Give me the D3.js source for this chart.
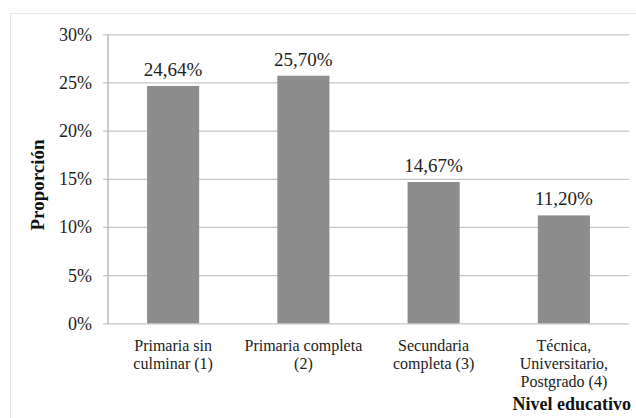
<!DOCTYPE html>
<html>
<head>
<meta charset="utf-8">
<script src="https://cdn.jsdelivr.net/npm/d3@7"></script>
<style>
  html, body { margin: 0; padding: 0; background: #fff; }
  svg { display: block; }
  svg text { font-family: "Liberation Serif", "Times New Roman", serif; }
</style>
</head>
<body>
<svg id="chart" width="636" height="418"></svg>
<script>
// Education level categories (label lines) and their shares (%)
const categories = [
  ["Primaria sin", "culminar (1)"],
  ["Primaria completa", "(2)"],
  ["Secundaria", "completa (3)"],
  ["Técnica,", "Universitario,", "Postgrado (4)"]
];
const values = [24.64, 25.70, 14.67, 11.20];
const valueLabels = ["24,64%", "25,70%", "14,67%", "11,20%"];
const yTicks = [0, 5, 10, 15, 20, 25, 30];
const yTitle = "Proporción";
const xTitle = "Nivel educativo";

const svg = d3.select("#chart");

// Light frame around the chart area
svg.append("rect")
  .attr("x", 10.5).attr("y", 13.5)
  .attr("width", 640).attr("height", 420)
  .attr("fill", "#fff")
  .attr("stroke", "#e6e6e6");

const plotLeft = 108, plotRight = 629, plotTop = 34.3, plotBottom = 323.3;

const x = d3.scaleBand()
  .domain(d3.range(categories.length))
  .range([plotLeft, plotRight])
  .paddingInner(0.6)
  .paddingOuter(0.3);

const y = d3.scaleLinear().domain([0, 30]).range([plotBottom, plotTop]);

// Horizontal gridlines with short ticks to the left of the axis
const yAxis = d3.axisLeft(y)
  .tickValues(yTicks)
  .tickSize(-(plotRight - plotLeft))
  .tickPadding(16)
  .tickFormat(d => d + "%");

const gy = svg.append("g")
  .attr("transform", `translate(${plotLeft},0)`)
  .call(yAxis)
  .attr("font-family", null);
gy.select(".domain").remove();
gy.selectAll(".tick line")
  .attr("x1", -5)
  .attr("stroke", "#c6c6c6")
  .attr("stroke-width", 1.3);
gy.selectAll(".tick text")
  .style("font-size", "18px")
  .attr("fill", "#222")
  .attr("x", -16)
  .attr("dy", "0.33em");

// Vertical axis line
svg.append("line")
  .attr("x1", plotLeft).attr("x2", plotLeft)
  .attr("y1", plotTop).attr("y2", plotBottom)
  .attr("stroke", "#b8b8b8")
  .attr("stroke-width", 1.5);

// Bars
svg.append("g").selectAll("rect")
  .data(values)
  .join("rect")
  .attr("x", (d, i) => x(i))
  .attr("width", x.bandwidth())
  .attr("y", d => y(d))
  .attr("height", d => y(0) - y(d))
  .attr("fill", "#8d8d8d");

// Value labels above bars
svg.append("g").selectAll("text")
  .data(values)
  .join("text")
  .attr("x", (d, i) => x(i) + x.bandwidth() / 2)
  .attr("y", d => y(d) - 10)
  .attr("text-anchor", "middle")
  .style("font-size", "19px")
  .attr("fill", "#222")
  .text((d, i) => valueLabels[i]);

// Category labels
const cat = svg.append("g").selectAll("text")
  .data(categories)
  .join("text")
  .attr("text-anchor", "middle")
  .style("font-size", "16px")
  .attr("fill", "#222");
cat.selectAll("tspan")
  .data((d, i) => d.map(s => ({ s, i })))
  .join("tspan")
  .attr("x", d => x(d.i) + x.bandwidth() / 2)
  .attr("y", (d, j) => 350.5 + j * 18.2)
  .text(d => d.s);

// Axis titles
svg.append("text")
  .attr("transform", `translate(44,185) rotate(-90)`)
  .attr("text-anchor", "middle")
  .style("font-weight", "bold")
  .style("font-size", "19px")
  .attr("fill", "#111")
  .text(yTitle);

svg.append("text")
  .attr("x", 631)
  .attr("y", 410)
  .attr("text-anchor", "end")
  .style("font-weight", "bold")
  .style("font-size", "18px")
  .attr("fill", "#111")
  .text(xTitle);
</script>
</body>
</html>
